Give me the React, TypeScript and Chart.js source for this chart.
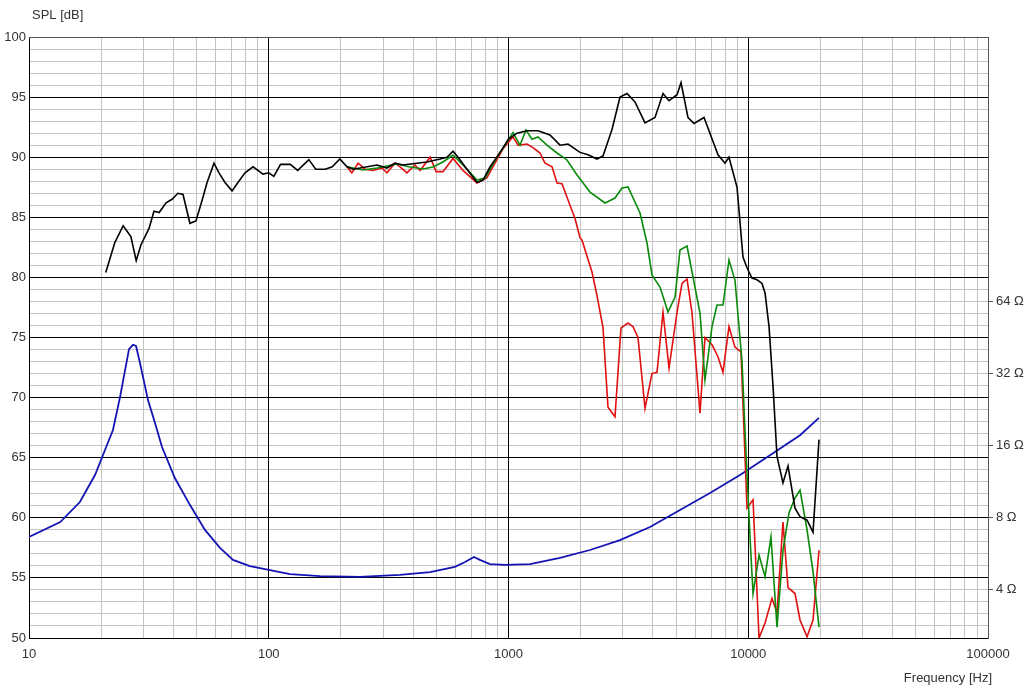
import React, { useEffect, useRef } from "react";
import { Chart, registerables } from "chart.js";

Chart.register(...registerables);

// ---- Data ----
const onAxisFreq = [20.9, 22.8, 24.7, 26.6, 28.0, 29.3, 31.7, 33.2, 34.9, 37.3, 39.5, 41.8, 43.9, 46.9, 49.7, 52.7, 55.3, 59.1, 62.0, 65.7, 70.3, 74.4, 79.6, 86.0, 94.6, 100, 105, 112, 123, 132, 147, 157, 172, 184, 198, 212, 225, 283, 311, 336, 363, 415, 457, 518, 554, 587, 616, 671, 739, 783, 837, 922, 1000, 1085, 1194, 1327, 1489, 1640, 1771, 1987, 2146, 2339, 2479, 2702, 2918, 3121, 3370, 3710, 4084, 4410, 4672, 5046, 5243, 5607, 5939, 6539, 7478, 7998, 8310, 8977, 9508, 9881, 10360, 10880, 11410, 11750, 12210, 12690, 13180, 13960, 14650, 15670, 16440, 17590, 18630, 19730];
const onAxisDb = [80.4, 82.9, 84.3, 83.4, 81.4, 82.7, 84.1, 85.5, 85.4, 86.2, 86.5, 87.0, 86.9, 84.5, 84.7, 86.4, 87.9, 89.5, 88.7, 87.9, 87.2, 87.9, 88.7, 89.2, 88.6, 88.7, 88.4, 89.4, 89.4, 88.9, 89.8, 89.0, 89.0, 89.2, 89.85, 89.2, 89.0, 89.35, 89.1, 89.5, 89.35, 89.5, 89.6, 89.85, 90.0, 90.5, 90.0, 89.0, 87.9, 88.1, 89.2, 90.4, 91.5, 92.0, 92.2, 92.2, 91.85, 91.0, 91.1, 90.4, 90.2, 89.85, 90.1, 92.3, 95.0, 95.3, 94.6, 92.85, 93.3, 95.3, 94.7, 95.2, 96.2, 93.3, 92.8, 93.3, 90.2, 89.5, 90.0, 87.5, 81.7, 80.8, 79.95, 79.8, 79.5, 78.7, 75.9, 70.9, 65.1, 62.9, 64.3, 60.8, 60.1, 59.8, 58.8, 66.5];

const offAxis1Freq = [212, 225, 247, 283, 311, 343, 388, 440, 484, 533, 587, 646, 739, 798, 895, 986, 1044, 1117, 1183, 1253, 1327, 1447, 1594, 1754, 1931, 2188, 2526, 2781, 2974, 3151, 3537, 3782, 3967, 4285, 4627, 4950, 5192, 5555, 5884, 6291, 6599, 7061, 7407, 7846, 8310, 8803, 9418, 9694, 9881, 10170, 10470, 11090, 11750, 12440, 13180, 13960, 14790, 15670, 16440, 17590, 18630, 19730];
const offAxis1Db = [89.2, 89.1, 88.93, 89.1, 89.27, 89.43, 89.18, 89.02, 89.18, 89.6, 90.18, 89.35, 88.1, 88.27, 90.0, 91.26, 92.05, 91.0, 92.26, 91.5, 91.68, 91.0, 90.35, 89.77, 88.52, 87.1, 86.19, 86.6, 87.44, 87.52, 85.36, 82.86, 80.2, 79.2, 77.12, 78.37, 82.28, 82.61, 80.03, 77.04, 71.46, 75.9, 77.7, 77.7, 81.45, 79.78, 73.0, 67.2, 63.7, 58.4, 53.7, 56.9, 55.1, 58.4, 50.9, 57.3, 60.4, 61.65, 62.3, 59.0, 55.5, 50.9];

const offAxis2Freq = [212, 222, 236, 252, 272, 297, 311, 336, 353, 377, 407, 428, 471, 499, 533, 587, 646, 739, 813, 895, 949, 1044, 1095, 1194, 1265, 1353, 1420, 1519, 1594, 1672, 1805, 1894, 1987, 2026, 2230, 2339, 2479, 2600, 2781, 2946, 3151, 3306, 3469, 3710, 3967, 4163, 4410, 4672, 5046, 5293, 5555, 5828, 6291, 6599, 7061, 7478, 7846, 8310, 8803, 9327, 9881, 10470, 11090, 11750, 12560, 13180, 13960, 14650, 15670, 16440, 17590, 18630, 19730];
const offAxis2Db = [89.2, 88.7, 89.5, 89.0, 88.9, 89.1, 88.7, 89.5, 89.2, 88.7, 89.35, 88.9, 90.0, 88.8, 88.8, 89.9, 88.9, 87.85, 88.3, 89.8, 90.7, 91.7, 91.0, 91.1, 90.8, 90.35, 89.5, 89.2, 87.85, 87.8, 86.0, 84.9, 83.3, 83.1, 80.45, 78.5, 75.8, 69.2, 68.4, 75.8, 76.2, 75.9, 75.0, 69.1, 72.0, 72.1, 77.1, 72.46, 77.1, 79.5, 79.87, 77.04, 68.7, 75.0, 74.4, 73.4, 72.1, 75.9, 74.2, 73.8, 60.8, 61.5, 50.0, 51.25, 53.3, 52.1, 59.65, 54.2, 53.7, 51.5, 50.1, 51.5, 57.3];

const impFreq = [10, 13.5, 16.3, 18.85, 21.15, 22.4, 23.97, 26.13, 27.15, 27.95, 29.04, 31.36, 33.54, 35.87, 40.64, 46.95, 54.2, 62.6, 70.95, 83.5, 100, 122.7, 163.6, 240, 352.7, 470.6, 598, 658.6, 718, 760, 837, 967, 1229, 1640, 2188, 2918, 3892, 5192, 6926, 9238, 12320, 16440, 19730];
const impOhm = [6.65, 7.68, 9.31, 12.07, 16.1, 18.6, 25.5, 40.5, 42.2, 41.7, 35.4, 24.8, 19.9, 15.8, 11.7, 9.04, 7.12, 5.99, 5.34, 5.03, 4.85, 4.66, 4.57, 4.53, 4.62, 4.75, 4.99, 5.23, 5.49, 5.34, 5.13, 5.09, 5.13, 5.44, 5.87, 6.46, 7.32, 8.62, 10.15, 12.07, 14.6, 17.7, 20.9];

const freqTickValues = [10, 20, 30, 40, 50, 60, 70, 80, 90, 100, 200, 300, 400, 500, 600, 700, 800, 900, 1000, 2000, 3000, 4000, 5000, 6000, 7000, 8000, 9000, 10000, 20000, 30000, 40000, 50000, 60000, 70000, 80000, 90000, 100000];
const freqLabels = ["10", "100", "1000", "10000", "100000"];
const decades = [10, 100, 1000, 10000, 100000];
const ohmTicks = [4, 8, 16, 32, 64];

const SPL_MIN = 50;
const SPL_MAX = 100;
// impedance axis: 4 Ω sits at 54 dB, each doubling spans 6 dB
const Z_MIN = 4 * Math.pow(2, (SPL_MIN - 54) / 6);
const Z_MAX = 4 * Math.pow(2, (SPL_MAX - 54) / 6);

const FONT = '"Liberation Sans", Arial, sans-serif';
const TEXT = "#333";
const MINOR = "#c4c4c4";

const pts = (xs: number[], ys: number[]) => xs.map((x, i) => ({ x, y: ys[i] }));

const crisp = (p: number) => Math.round(p - 0.5) + 0.5;

// major grid lines drawn over the minor grid, below the data
const majorGridPlugin = {
  id: "majorGrid",
  beforeDatasetsDraw(chart: any) {
    const { ctx, chartArea, scales } = chart;
    ctx.save();
    ctx.lineWidth = 1;
    ctx.strokeStyle = "#000000";
    ctx.beginPath();
    decades.forEach((v) => {
      if (v <= 10 || v >= 100000) return;
      const px = crisp(scales.x.getPixelForValue(v));
      ctx.moveTo(px, chartArea.top);
      ctx.lineTo(px, chartArea.bottom);
    });
    for (let v = SPL_MIN + 5; v < SPL_MAX; v += 5) {
      const py = crisp(scales.y.getPixelForValue(v));
      ctx.moveTo(chartArea.left, py);
      ctx.lineTo(chartArea.right, py);
    }
    ctx.stroke();
    ctx.strokeStyle = "#555555";
    ctx.beginPath();
    const top = crisp(scales.y.getPixelForValue(SPL_MAX));
    ctx.moveTo(chartArea.left, top);
    ctx.lineTo(chartArea.right, top);
    ctx.stroke();
    ctx.restore();
  },
};

const textPlugin = {
  id: "axisTexts",
  afterDraw(chart: any) {
    const ctx = chart.ctx;
    ctx.save();
    ctx.fillStyle = TEXT;
    ctx.font = `13px ${FONT}`;
    ctx.textBaseline = "middle";
    ctx.textAlign = "left";
    ctx.fillText("SPL [dB]", 32, 15);
    ctx.textAlign = "right";
    ctx.fillText("Frequency [Hz]", 992, 678);
    ctx.restore();
  },
};

export default function App() {
  const ref = useRef<HTMLCanvasElement | null>(null);

  useEffect(() => {
    if (!ref.current) return;
    const chart = new Chart(ref.current, {
      type: "line",
      data: {
        datasets: [
          {
            label: "0°",
            data: pts(onAxisFreq, onAxisDb),
            borderColor: "#000000",
            borderWidth: 1.6,
            yAxisID: "y",
          },
          {
            label: "30°",
            data: pts(offAxis1Freq, offAxis1Db),
            borderColor: "#0a8a0a",
            borderWidth: 1.6,
            yAxisID: "y",
          },
          {
            label: "60°",
            data: pts(offAxis2Freq, offAxis2Db),
            borderColor: "#e01010",
            borderWidth: 1.6,
            yAxisID: "y",
          },
          {
            label: "Impedance",
            data: pts(impFreq, impOhm),
            borderColor: "#1414b4",
            borderWidth: 1.8,
            yAxisID: "y2",
          },
        ],
      },
      options: {
        animation: false,
        responsive: false,
        devicePixelRatio: 1,
        layout: { padding: { top: 37, left: 0, right: 0, bottom: 0 } },
        elements: { point: { radius: 0 }, line: { tension: 0 } },
        plugins: { legend: { display: false }, tooltip: { enabled: false }, title: { display: false } },
        scales: {
          x: {
            type: "logarithmic",
            min: 10,
            max: 100000,
            afterBuildTicks: (scale: any) => {
              scale.ticks = freqTickValues.map((v) => ({ value: v }));
            },
            afterFit: (scale: any) => {
              scale.height = 51;
            },
            ticks: {
              autoSkip: false,
              maxRotation: 0,
              padding: 9,
              color: TEXT,
              font: { family: FONT, size: 13 },
              callback: (v: any) => {
                const i = decades.indexOf(Number(v));
                return i >= 0 ? freqLabels[i] : "";
              },
            },
            grid: {
              drawTicks: false,
              lineWidth: 1,
              color: (c: any) => {
                const v = c.tick ? c.tick.value : 0;
                return v === 100000 ? "#555555" : MINOR;
              },
            },
            border: { display: true, color: "#000000", width: 1 },
          },
          y: {
            type: "linear",
            position: "left",
            min: SPL_MIN,
            max: SPL_MAX,
            afterFit: (scale: any) => {
              scale.width = 29;
            },
            ticks: {
              stepSize: 1,
              autoSkip: false,
              padding: 3,
              color: TEXT,
              font: { family: FONT, size: 13 },
              callback: (v: any) => (Number(v) % 5 === 0 ? String(v) : ""),
            },
            grid: {
              drawTicks: false,
              lineWidth: 1,
              color: MINOR,
            },
            border: { display: true, color: "#000000", width: 1 },
          },
          y2: {
            type: "logarithmic",
            position: "right",
            min: Z_MIN,
            max: Z_MAX,
            afterBuildTicks: (scale: any) => {
              scale.ticks = ohmTicks.map((v) => ({ value: v }));
            },
            afterFit: (scale: any) => {
              scale.width = 36;
            },
            ticks: {
              autoSkip: false,
              padding: 3,
              color: TEXT,
              font: { family: FONT, size: 13 },
              callback: (v: any) => `${v} Ω`,
            },
            grid: {
              drawOnChartArea: false,
              drawTicks: true,
              tickLength: 5,
              color: "#555555",
            },
            border: { display: true, color: "#555555", width: 1 },
          },
        },
      },
      plugins: [majorGridPlugin, textPlugin],
    } as any);
    return () => chart.destroy();
  }, []);

  return (
    <div style={{ position: "absolute", left: 0, top: 0, width: 1024, height: 689, background: "#fff" }}>
      <canvas ref={ref} width={1024} height={689} style={{ width: 1024, height: 689, display: "block" }} />
    </div>
  );
}
